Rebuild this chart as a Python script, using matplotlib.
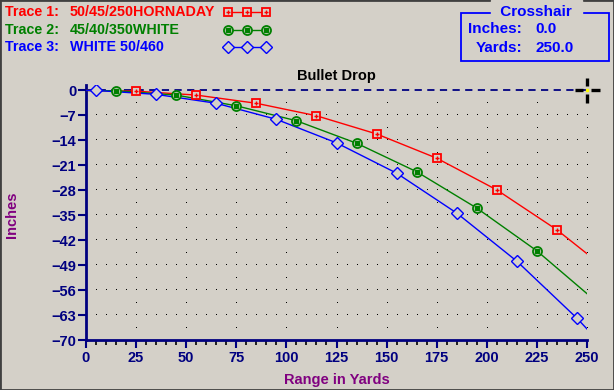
import numpy as np
import matplotlib
matplotlib.use("Agg")
import matplotlib.pyplot as plt
from matplotlib.path import Path
from matplotlib.lines import Line2D
from matplotlib.patches import Rectangle

plt.rcParams['font.family'] = ['Liberation Sans', 'DejaVu Sans']
plt.rcParams['font.weight'] = 'bold'

# traces (yards, inches)
t1_x = [0, 25, 55, 85, 115, 145, 175, 205, 235, 250]
t1_y = [0, -0.2, -1.3, -3.6, -7.1, -12.2, -19.0, -27.9, -39.1, -45.8]
t2_x = [0, 15, 45, 75, 105, 135, 165, 195, 225, 250]
t2_y = [0, -0.1, -1.3, -4.3, -8.5, -14.8, -22.8, -33.0, -45.0, -57.0]
t3_x = [0, 5, 35, 65, 95, 125, 155, 185, 215, 245, 250]
t3_y = [0, 0, -1.1, -3.6, -8.1, -14.7, -23.2, -34.4, -47.9, -63.9, -66.9]

labels = ["50/45/250HORNADAY", "45/40/350WHITE", "WHITE 50/460"]
xticks = np.arange(0, 251, 25)
yticks = np.arange(0, -71, -7)
cross_inches = 0.0
cross_yards = 250.0

bg = '#D4D0C8'
navy = '#000080'
purple = '#800080'
red, green, blue = '#FF0000', '#008000', '#0000FF'

fig = plt.figure(figsize=(6.14, 3.9), dpi=100, facecolor=bg)
ax = fig.add_axes([86/614, 1-340/390, (587-86)/614, (340-85.1)/390])
ax.set_facecolor(bg)
ax.set_xlim(0, 250)
ax.set_ylim(-70, 1.5)

for s in ['top', 'right']:
    ax.spines[s].set_visible(False)
for s in ['left', 'bottom']:
    ax.spines[s].set_color(navy)
    ax.spines[s].set_linewidth(2)

ax.set_xticks(xticks)
ax.set_xticks(np.arange(0, 251, 5), minor=True)
ax.set_yticks(yticks)
ax.tick_params(axis='both', colors=navy, labelsize=10.5, width=1.5)
ax.tick_params(axis='x', which='major', length=6, pad=2)
ax.tick_params(axis='x', which='minor', length=3.5, width=1.2)
ax.tick_params(axis='y', which='major', length=6, pad=1)
for lab in ax.get_xticklabels() + ax.get_yticklabels():
    lab.set_fontweight('bold')

# dotted grid
gx, gy = np.meshgrid(np.arange(5, 250, 5), np.arange(-7, -69, -7))
ax.plot(gx.ravel(), gy.ravel(), ',', color='black')
gx, gy = np.meshgrid(np.arange(25, 251, 25), np.arange(-3.5, -69, -3.5))
ax.plot(gx.ravel(), gy.ravel(), ',', color='black')

# zero line
ax.axhline(0, color=navy, lw=1.3, ls=(0, (4, 3)))


def draw_trace(a, x, y, c, kind):
    a.plot(x, y, color=c, lw=1.0, zorder=3)
    mx, my = x[1:-1], y[1:-1]
    if kind == 's':
        a.plot(mx, my, 's', ms=6.2, mfc=bg, mec=c, mew=1.3, zorder=4)
        a.plot(mx, my, '+', ms=3.5, mec=c, mew=1.0, zorder=5)
    elif kind == 'o':
        a.plot(mx, my, 'o', ms=6.5, mfc=bg, mec=c, mew=1.3, zorder=4)
        a.plot(mx, my, 's', ms=2.2, mfc=c, mec=c, zorder=5)
    else:
        a.plot(mx, my, 'D', ms=6.5, mfc=bg, mec=c, mew=1.0, zorder=4)


draw_trace(ax, t1_x, t1_y, red, 's')
draw_trace(ax, t2_x, t2_y, green, 'o')
draw_trace(ax, t3_x, t3_y, blue, 'D')

# crosshair marker
arm = Path([(-1, 0), (-0.3, 0), (0.3, 0), (1, 0), (0, -1), (0, -0.3), (0, 0.3), (0, 1)],
           [Path.MOVETO, Path.LINETO] * 4)
ax.plot([cross_yards], [cross_inches], marker=arm, ms=18, mec='black', mew=2.4,
        ls='none', clip_on=False, zorder=6)
ax.plot([cross_yards], [cross_inches], 's', ms=1.5, mfc='yellow', mec='yellow',
        clip_on=False, zorder=7)

ax.set_title("Bullet Drop", fontsize=10.5, fontweight='bold', color='black', pad=4)
ax.set_xlabel("Range in Yards", fontsize=10.5, fontweight='bold', color=purple, labelpad=6)
fig.text(12/614, 1-215/390, "Inches", fontsize=10.5, fontweight='bold', color=purple,
         rotation=90, ha='center', va='center')

# legend at top-left
colors = [red, green, blue]
ys = [12, 30, 47]
for i, (lab, c, yy) in enumerate(zip(labels, colors, ys)):
    fy = 1 - yy/390
    fig.text(5/614, fy, f"Trace {i+1}:", color=c, fontsize=10.3, fontweight='bold', va='center')
    fig.text(70/614, fy, lab, color=c, fontsize=10.3, fontweight='bold', va='center')
    lx = np.array([228, 247, 266]) / 614
    fig.add_artist(Line2D(lx, [fy]*3, color=c, lw=1.0))
    if i == 0:
        fig.add_artist(Line2D(lx, [fy]*3, ls='none', marker='s', ms=6.2, mfc=bg, mec=c, mew=1.3))
        fig.add_artist(Line2D(lx, [fy]*3, ls='none', marker='+', ms=3.5, mec=c, mew=1.0))
    elif i == 1:
        fig.add_artist(Line2D(lx, [fy]*3, ls='none', marker='o', ms=6.5, mfc=bg, mec=c, mew=1.3))
        fig.add_artist(Line2D(lx, [fy]*3, ls='none', marker='s', ms=2.2, mfc=c, mec=c))
    else:
        fig.add_artist(Line2D(lx, [fy]*3, ls='none', marker='D', ms=6.5, mfc=bg, mec=c, mew=1.0))

# crosshair readout box
fig.add_artist(Rectangle((461/614, 1-61/390), (609-461)/614, (61-13)/390,
                         fill=False, ec=blue, lw=1.3, transform=fig.transFigure))
fig.text(536/614, 1-12/390, " Crosshair ", color=blue, fontsize=11, fontweight='bold',
         ha='center', va='center', backgroundcolor=bg)
fig.text(522/614, 1-29/390, "Inches:", color=blue, fontsize=11, fontweight='bold', ha='right', va='center')
fig.text(535/614, 1-29/390, f"{cross_inches:.1f}", color=blue, fontsize=11, fontweight='bold', va='center')
fig.text(522/614, 1-48/390, "Yards:", color=blue, fontsize=11, fontweight='bold', ha='right', va='center')
fig.text(535/614, 1-48/390, f"{cross_yards:.1f}", color=blue, fontsize=11, fontweight='bold', va='center')

# window border
fig.add_artist(Rectangle((0, 0), 1, 1, fill=False, ec='#404040', lw=2, transform=fig.transFigure))

fig.savefig("out.png", dpi=100, facecolor=bg)
